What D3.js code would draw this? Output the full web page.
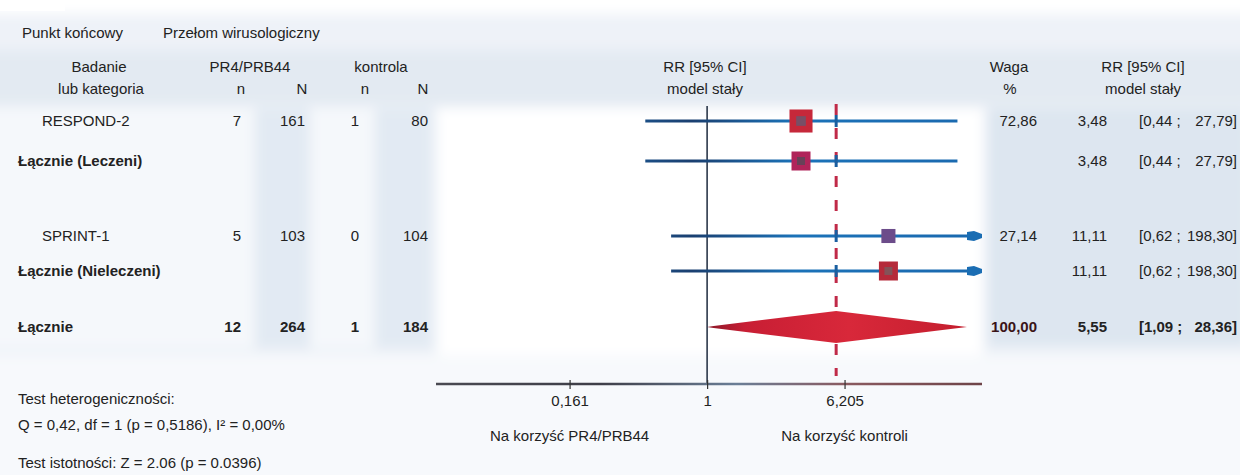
<!DOCTYPE html>
<html>
<head>
<meta charset="utf-8">
<script src="https://cdn.jsdelivr.net/npm/d3@7"></script>
<style>
  body { margin: 0; background: #ffffff; }
  svg text { font-family: "Liberation Sans", Arial, sans-serif; font-size: 15px; fill: #222; }
</style>
</head>
<body>
<div id="forest"></div>
<script>
// rows of the forest plot
const rowLabels = ["RESPOND-2", "Łącznie (Leczeni)", "SPRINT-1", "Łącznie (Nieleczeni)", "Łącznie"];
const rowKinds = ["study", "subtotal", "study", "subtotal", "total"];
const nTreat = [7, null, 5, null, 12];
const NTreat = [161, null, 103, null, 264];
const nCtrl = [1, null, 0, null, 1];
const NCtrl = [80, null, 104, null, 184];
const weights = [72.86, null, 27.14, null, 100.0];
const rr = [3.48, 3.48, 11.11, 11.11, 5.55];
const ciLow = [0.44, 0.44, 0.62, 0.62, 1.09];
const ciHigh = [27.79, 27.79, 198.3, 198.3, 28.36];
const tickValues = [0.161, 1, 6.205];
const axisDomain = [0.0259, 38.5];

const width = 1240;
const height = 475;

const svg = d3
  .select("#forest")
  .append("svg")
  .attr("width", width)
  .attr("height", height);

const defs = svg.append("defs");
const blur = defs.append("filter").attr("id", "soft").attr("x", "-10%").attr("y", "-10%").attr("width", "120%").attr("height", "120%");
blur.append("feGaussianBlur").attr("stdDeviation", 6);

// gradients in user space so that flat lines still get painted
function hGradient(id, x1, x2, stops) {
  const g = defs.append("linearGradient")
    .attr("id", id)
    .attr("gradientUnits", "userSpaceOnUse")
    .attr("x1", x1).attr("x2", x2).attr("y1", 0).attr("y2", 0);
  stops.forEach((s) => g.append("stop").attr("offset", s[0]).attr("stop-color", s[1]));
}
hGradient("ciGrad", 640, 985, [["0%", "#1c5088"], ["15%", "#1a3f70"], ["45%", "#1b72b8"], ["100%", "#1a68ae"]]);
hGradient("diaGrad", 706, 966, [["0%", "#8a1828"], ["15%", "#c81e34"], ["55%", "#d8283a"], ["100%", "#c41e2e"]]);
hGradient("axisGrad", 436, 982, [["0%", "#4a4a52"], ["30%", "#3e3e48"], ["55%", "#6a7e96"], ["75%", "#8a5a60"], ["100%", "#6e4448"]]);

// soft background panels
const bg = svg.append("g").attr("filter", "url(#soft)");
bg.append("rect").attr("x", -20).attr("y", 14).attr("width", 1280).attr("height", 480).attr("fill", "#eef2f8");
bg.append("rect").attr("x", -20).attr("y", 50).attr("width", 1280).attr("height", 55).attr("fill", "#e3eaf2");
bg.append("rect").attr("x", -20).attr("y", 108).attr("width", 456).attr("height", 240).attr("fill", "#f5f8fb");
bg.append("rect").attr("x", 255).attr("y", 108).attr("width", 55).attr("height", 240).attr("fill", "#e2eaf3");
bg.append("rect").attr("x", 375).attr("y", 108).attr("width", 58).attr("height", 240).attr("fill", "#e2eaf3");
bg.append("rect").attr("x", 438).attr("y", 108).attr("width", 545).attr("height", 270).attr("fill", "#ffffff");
bg.append("rect").attr("x", 988).attr("y", 108).attr("width", 260).attr("height", 238).attr("fill", "#dde6f0");
bg.append("rect").attr("x", -20).attr("y", 355).attr("width", 1280).attr("height", 140).attr("fill", "#f7f9fc");
svg.append("rect").attr("x", 0).attr("y", 0).attr("width", 65).attr("height", 11).attr("fill", "#ffffff");

const x = d3.scaleLog().domain(axisDomain).range([432, 982]);
const y = d3.scaleOrdinal().domain(rowLabels).range([121, 161, 236, 271, 327]);

const plLocale = d3.formatLocale({ decimal: ",", thousands: " ", grouping: [3], currency: ["", " zł"] });
const fmt2 = plLocale.format(".2f");

// header
svg.append("text").attr("x", 22).attr("y", 38).text("Punkt końcowy");
svg.append("text").attr("x", 163).attr("y", 38).text("Przełom wirusologiczny");

const head = svg.append("g").attr("text-anchor", "middle");
[
  ["Badanie", 99, 72], ["lub kategoria", 101, 94],
  ["PR4/PRB44", 250, 72], ["n", 241, 94], ["N", 302, 94],
  ["kontrola", 381, 72], ["n", 365, 94], ["N", 423, 94],
  ["RR [95% CI]", 705, 72], ["model stały", 705, 94],
  ["Waga", 1009, 72], ["%", 1010, 94],
  ["RR [95% CI]", 1143, 72], ["model stały", 1143, 94]
].forEach((h) => head.append("text").attr("x", h[1]).attr("y", h[2]).text(h[0]));

// reference lines
svg.append("line")
  .attr("x1", x(1)).attr("x2", x(1))
  .attr("y1", 106).attr("y2", 384)
  .attr("stroke", "#1e2b3e").attr("stroke-width", 1.5);

svg.append("line")
  .attr("x1", x(rr[4])).attr("x2", x(rr[4]))
  .attr("y1", 104).attr("y2", 376)
  .attr("stroke", "#c02a48").attr("stroke-width", 3)
  .attr("stroke-dasharray", "11,13");

// table rows
const rows = svg.selectAll("g.row")
  .data(rowLabels.map((label, i) => ({ label, i, kind: rowKinds[i] })))
  .enter()
  .append("g")
  .attr("class", "row")
  .attr("transform", (d) => `translate(0,${y(d.label) + 5})`);

rows.append("text")
  .attr("x", (d) => (d.kind === "study" ? 42 : 18))
  .style("font-weight", (d) => (d.kind === "study" ? "normal" : "bold"))
  .text((d) => d.label);

const numCols = [
  [nTreat, 241], [NTreat, 305], [nCtrl, 359], [NCtrl, 428]
];
const right = rows.append("g").style("font-weight", (d) => (d.kind === "total" ? "bold" : "normal"));

numCols.forEach(([arr, px]) => {
  right.filter((d) => arr[d.i] !== null)
    .append("text")
    .attr("x", px)
    .attr("text-anchor", "end")
    .text((d) => arr[d.i]);
});

right.filter((d) => weights[d.i] !== null)
  .append("text")
  .attr("x", 1037)
  .attr("text-anchor", "end")
  .style("fill", (d) => (d.kind === "total" ? "#3a1418" : "#222"))
  .text((d) => fmt2(weights[d.i]));

right.append("text")
  .attr("x", 1107)
  .attr("text-anchor", "end")
  .text((d) => fmt2(rr[d.i]));

right.append("text")
  .attr("x", 1139)
  .text((d) => `[${fmt2(ciLow[d.i])} ;`);

right.append("text")
  .attr("x", 1237)
  .attr("text-anchor", "end")
  .text((d) => `${fmt2(ciHigh[d.i])}]`);

// confidence intervals
const marks = svg.append("g");
const maxX = x.range()[1];

rowLabels.forEach((label, i) => {
  if (rowKinds[i] === "total") return;
  const cy = y(label);
  const hiX = Math.min(x(ciHigh[i]), maxX);
  const clipped = x(ciHigh[i]) > maxX;
  marks.append("line")
    .attr("x1", x(ciLow[i])).attr("x2", clipped ? hiX - 10 : hiX)
    .attr("y1", cy).attr("y2", cy)
    .attr("stroke", "url(#ciGrad)").attr("stroke-width", 3.2);
  if (clipped) {
    marks.append("path")
      .attr("d", `M${hiX - 15},${cy - 4} L${hiX - 8},${cy - 5} L${hiX},${cy - 2} L${hiX},${cy + 2} L${hiX - 8},${cy + 5} L${hiX - 15},${cy + 4} Z`)
      .attr("fill", "#1a6db3");
  }
  // blue dash where the overall line crosses
  marks.append("rect")
    .attr("x", x(rr[4]) - 1.5).attr("y", cy - 6)
    .attr("width", 3).attr("height", 12)
    .attr("fill", "#1a5fa0");
});

// squares
const squareFill = ["#c6283a", "#b0245a", "#6c4c8a", "#b52a3a"];
const innerFill = ["#6a566e", "#5a4658", null, "#7a5a5e"];
rowLabels.forEach((label, i) => {
  if (rowKinds[i] === "total") return;
  const s = rowKinds[i] === "study" ? 2.7 * Math.sqrt(weights[i]) : 19;
  const cx = x(rr[i]);
  const cy = y(label);
  marks.append("rect")
    .attr("x", cx - s / 2).attr("y", cy - s / 2)
    .attr("width", s).attr("height", s)
    .attr("fill", squareFill[i]);
  if (innerFill[i]) {
    const t = s * 0.42;
    marks.append("rect")
      .attr("x", cx - t / 2).attr("y", cy - t / 2)
      .attr("width", t).attr("height", t)
      .attr("fill", innerFill[i]).attr("opacity", 0.85);
  }
});

// overall diamond
const ty = y(rowLabels[4]);
marks.append("path")
  .attr("d", `M${x(1)},${ty} L${x(ciLow[4])},${ty - 1} L${x(rr[4])},${ty - 16} L${x(ciHigh[4]) + 8},${ty} L${x(rr[4])},${ty + 16} L${x(ciLow[4])},${ty + 1} Z`)
  .attr("fill", "url(#diaGrad)");

// axis
const axis = d3.axisBottom(x)
  .tickValues(tickValues)
  .tickSize(5)
  .tickSizeOuter(0)
  .tickPadding(6)
  .tickFormat((v) => plLocale.format(",")(v));

const ax = svg.append("g")
  .attr("transform", "translate(0,384)")
  .call(axis);
ax.select(".domain").attr("stroke", "url(#axisGrad)").attr("stroke-width", 2.5)
  .attr("d", `M436,0H982`);
ax.selectAll(".tick line").attr("y1", -4).attr("stroke", "#333").attr("stroke-width", 1.2);
ax.selectAll(".tick text")
  .style("font-family", "'Liberation Sans', Arial, sans-serif")
  .style("font-size", "15px")
  .attr("fill", "#222");

svg.append("text").attr("x", x(tickValues[0])).attr("y", 441).attr("text-anchor", "middle").text("Na korzyść PR4/PRB44");
svg.append("text").attr("x", x(tickValues[2])).attr("y", 441).attr("text-anchor", "middle").text("Na korzyść kontroli");

// tests
svg.append("text").attr("x", 18).attr("y", 404).text("Test heterogeniczności:");
svg.append("text").attr("x", 18).attr("y", 430).text("Q = 0,42, df = 1 (p = 0,5186), I² = 0,00%");
svg.append("text").attr("x", 18).attr("y", 468).text("Test istotności: Z = 2.06 (p = 0.0396)");
</script>
</body>
</html>
